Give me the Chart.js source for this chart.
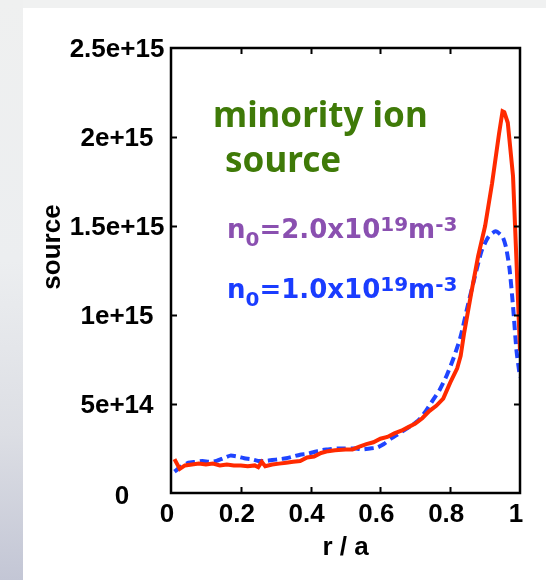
<!DOCTYPE html>
<html>
<head>
<meta charset="utf-8">
<script src="https://cdn.jsdelivr.net/npm/chart.js@4/dist/chart.umd.min.js"></script>
<style>
  html, body { margin: 0; padding: 0; width: 546px; height: 580px; overflow: hidden; background: #f0f1f1; }
  #strip { position: absolute; left: 0; top: 0; width: 23px; height: 580px;
           background: linear-gradient(to bottom, #eff0f0 0%, #eceef0 45%, #dcdee4 75%, #c3c6d5 100%); }
  #panel { position: absolute; left: 23px; top: 8px; width: 523px; height: 572px; background: #ffffff; }
  #c { position: absolute; left: 0; top: 0; }
</style>
</head>
<body>
<div id="strip"></div>
<div id="panel"></div>
<canvas id="c" width="546" height="580"></canvas>
<script>
// ---- data (source in units of 1e15) ----
const rHigh = [0.01,0.025,0.04,0.06,0.08,0.10,0.12,0.14,0.16,0.18,0.20,0.22,0.24,0.25,0.26,0.27,0.29,0.31,0.33,0.35,0.37,0.39,0.41,0.43,0.45,0.47,0.50,0.52,0.54,0.56,0.58,0.60,0.62,0.64,0.66,0.68,0.70,0.72,0.74,0.76,0.78,0.80,0.82,0.83,0.84,0.86,0.88,0.90,0.92,0.94,0.95,0.955,0.965,0.98,0.99,1.00];
const sourceHigh = [0.19,0.135,0.155,0.16,0.165,0.16,0.165,0.155,0.16,0.155,0.155,0.15,0.155,0.145,0.175,0.15,0.16,0.165,0.17,0.175,0.18,0.20,0.205,0.225,0.235,0.24,0.245,0.245,0.26,0.275,0.285,0.305,0.315,0.335,0.35,0.37,0.39,0.42,0.46,0.49,0.53,0.62,0.70,0.77,0.90,1.12,1.33,1.50,1.74,2.02,2.145,2.14,2.08,1.78,1.30,0.80];
const rLow = [0.01,0.03,0.05,0.07,0.09,0.11,0.13,0.15,0.17,0.19,0.21,0.23,0.25,0.27,0.29,0.31,0.33,0.35,0.37,0.39,0.41,0.43,0.45,0.47,0.50,0.53,0.55,0.57,0.59,0.61,0.63,0.65,0.67,0.69,0.71,0.73,0.75,0.77,0.79,0.81,0.83,0.85,0.87,0.89,0.91,0.93,0.95,0.96,0.97,0.98,0.99,1.00];
const sourceLow = [0.12,0.15,0.17,0.175,0.18,0.175,0.18,0.195,0.21,0.205,0.195,0.19,0.18,0.18,0.185,0.19,0.195,0.205,0.215,0.22,0.23,0.24,0.245,0.25,0.25,0.25,0.245,0.25,0.255,0.275,0.305,0.33,0.355,0.38,0.41,0.46,0.52,0.58,0.66,0.76,0.88,1.05,1.21,1.36,1.44,1.47,1.44,1.38,1.26,1.05,0.80,0.65];
const xTickLabels = ['0','0.2','0.4','0.6','0.8','1'];
const yTickLabels = ['0','5e+14','1e+15','1.5e+15','2e+15','2.5e+15'];
const xTitle = 'r / a';
const yTitle = 'source';

const tickFont = { family: 'Liberation Sans, Arial, sans-serif', size: 26, weight: 'bold' };
const tickFontCss = 'bold 26px Liberation Sans, Arial, sans-serif';

const framePlugin = {
  id: 'frame',
  afterDatasetsDraw(chart) {
    const { ctx, chartArea: a, scales: { x, y } } = chart;
    ctx.save();
    ctx.strokeStyle = '#000';
    ctx.lineWidth = 2;
    const L = 6;
    x.ticks.forEach(t => {
      if (t.value <= 0 || t.value >= 1) return;
      const px = Math.round(x.getPixelForValue(t.value)) + 0.5;
      ctx.beginPath();
      ctx.moveTo(px, a.bottom); ctx.lineTo(px, a.bottom - L);
      ctx.moveTo(px, a.top); ctx.lineTo(px, a.top + L);
      ctx.stroke();
    });
    y.ticks.forEach(t => {
      if (t.value <= 0 || t.value >= 2.5) return;
      const py = Math.round(y.getPixelForValue(t.value)) + 0.5;
      ctx.beginPath();
      ctx.moveTo(a.left, py); ctx.lineTo(a.left + L, py);
      ctx.moveTo(a.right, py); ctx.lineTo(a.right - L, py);
      ctx.stroke();
    });
    ctx.lineWidth = 2.5;
    ctx.strokeRect(a.left, a.top, a.right - a.left, a.bottom - a.top);

    // y tick labels (centred, as in the original) and y title
    ctx.fillStyle = '#000';
    ctx.font = tickFontCss;
    ctx.textAlign = 'center';
    ctx.textBaseline = 'middle';
    y.ticks.forEach((t, i) => {
      const py = y.getPixelForValue(t.value);
      if (i === 0) ctx.fillText(yTickLabels[0], 122, py + 4);
      else ctx.fillText(yTickLabels[i], 117, py + 2);
    });
    ctx.save();
    ctx.translate(53, 247);
    ctx.rotate(-Math.PI / 2);
    ctx.font = tickFontCss;
    ctx.fillText(yTitle, 0, 0);
    ctx.restore();

    // annotations
    ctx.textAlign = 'left';
    ctx.textBaseline = 'alphabetic';
    ctx.fillStyle = '#3f7a08';
    ctx.font = 'bold 35px "Noto Sans", sans-serif';
    ctx.fillText('minority ion', 213, 127);
    ctx.fillText('source', 225, 172);

    const drawFormula = (color, num, x0, base) => {
      ctx.fillStyle = color;
      let xx = x0;
      const big = 'bold 26px "DejaVu Sans", sans-serif';
      const small = 'bold 20px "DejaVu Sans", sans-serif';
      const part = (txt, font, dy) => {
        ctx.font = font;
        ctx.fillText(txt, xx, base + dy);
        xx += ctx.measureText(txt).width;
      };
      part('n', big, 0);
      part('0', small, 8);
      part('=' + num + 'x10', big, 0);
      part('19', small, -7);
      part('m', big, 0);
      part('-3', small, -7);
    };
    drawFormula('#8a50b0', '2.0', 227, 238);
    drawFormula('#1a3cff', '1.0', 227, 298);
    ctx.restore();
  }
};

new Chart(document.getElementById('c'), {
  type: 'line',
  data: {
    datasets: [
      {
        label: 'n0=2.0x10^19 m^-3',
        data: rHigh.map((r, i) => ({ x: r, y: sourceHigh[i] })),
        borderColor: '#ff2a00',
        borderWidth: 4,
        pointRadius: 0,
        fill: false,
        tension: 0
      },
      {
        label: 'n0=1.0x10^19 m^-3',
        data: rLow.map((r, i) => ({ x: r, y: sourceLow[i] })),
        borderColor: '#1f44ff',
        borderWidth: 4,
        borderDash: [9, 5],
        pointRadius: 0,
        fill: false,
        tension: 0.2
      }
    ]
  },
  options: {
    responsive: false,
    animation: false,
    layout: { padding: { left: 0, right: 26, top: 48, bottom: 0 } },
    plugins: { legend: { display: false }, tooltip: { enabled: false } },
    scales: {
      x: {
        type: 'linear', min: 0, max: 1,
        ticks: { stepSize: 0.2, color: '#000', font: tickFont, padding: 6, maxRotation: 0, labelOffset: -4,
                 callback: (v, i) => xTickLabels[i] },
        grid: { display: false, drawTicks: false },
        border: { display: false },
        title: { display: true, text: xTitle, color: '#000', font: tickFont, padding: { top: 0, bottom: 17 } },
        afterFit: s => { s.height = 87; }
      },
      y: {
        type: 'linear', min: 0, max: 2.5,
        ticks: { stepSize: 0.5, color: '#000', font: tickFont, padding: 16,
                 callback: () => '' },
        grid: { display: false, drawTicks: false },
        border: { display: false },
        afterFit: s => { s.width = 171; }
      }
    }
  },
  plugins: [framePlugin]
});
</script>
</body>
</html>
